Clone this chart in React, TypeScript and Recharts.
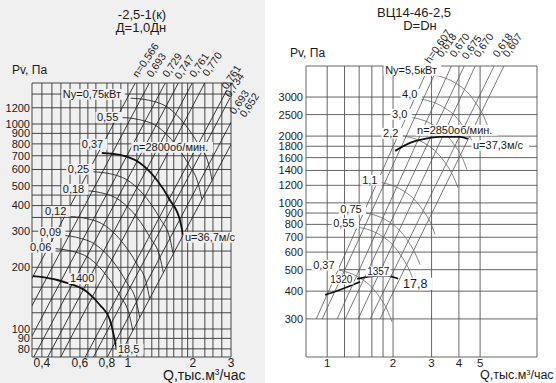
import React from 'react';
import { LineChart, Line, XAxis, YAxis, CartesianGrid, ReferenceDot } from 'recharts';

const FONT = '"Liberation Sans", Arial, Helvetica, sans-serif';
const BG_L = '#f0f0f0';

// ---------------- Left chart (-2,5-1(к)) ----------------
const L_xGrid = [0.36, 0.4, 0.445, 0.49, 0.54, 0.6, 0.653, 0.711, 0.8, 0.852, 0.928, 1, 1.1, 1.186, 1.29, 1.39, 1.515, 1.63, 1.78, 1.89, 2, 2.27, 2.475, 2.72, 3];
const L_xLabels = [0.4, 0.6, 0.8, 1, 2, 3];
const L_yGrid = [73, 80, 90, 100, 120, 140, 160, 200, 240, 300, 350, 400, 450, 500, 600, 700, 800, 900, 1000, 1200, 1400, 1585];
const L_yLabels = [80, 90, 100, 200, 300, 400, 500, 600, 700, 800, 900, 1000, 1200];

const L_n2800_Q = [0.758, 0.918, 1.137, 1.362, 1.565, 1.74, 1.8];
const L_n2800_P = [722, 706, 645, 533, 426, 340, 288];
const L_n1400_Q = [0.363, 0.404, 0.522, 0.646, 0.742, 0.825, 0.889];
const L_n1400_P = [181, 179, 168, 152, 131, 111, 79];

const L_a075_Q = [1.03, 1.25, 1.55, 1.85, 2.13, 2.37, 2.45];
const L_a075_P = [1336, 1306, 1193, 986, 788, 629, 533];
const L_a055_Q = [0.925, 1.12, 1.39, 1.66, 1.91, 2.12, 2.2];
const L_a055_P = [1076, 1052, 961, 794, 635, 507, 429];
const L_a025_Q = [0.682, 0.826, 1.023, 1.226, 1.409, 1.566, 1.62];
const L_a025_P = [585, 572, 522, 432, 345, 275, 233];
const L_a018_Q = [0.614, 0.744, 0.921, 1.103, 1.268, 1.409, 1.458];
const L_a018_P = [474, 463, 423, 350, 279, 223, 189];
const L_a012_Q = [0.531, 0.643, 0.796, 0.953, 1.096, 1.218, 1.26];
const L_a012_P = [354, 346, 316, 261, 209, 167, 141];
const L_a009_Q = [0.478, 0.578, 0.716, 0.858, 0.986, 1.096, 1.134];
const L_a009_P = [287, 280, 256, 212, 169, 135, 114];
const L_a006_Q = [0.443, 0.537, 0.665, 0.797, 0.916, 1.018, 1.053];
const L_a006_P = [247, 241, 221, 182, 146, 116, 98.5];

const L_diagTopQ = [1.112, 1.292, 1.531, 1.741, 2.04, 2.345, 2.873, 2.966, 3.125, 3.48];
const L_diagTopP = [1677, 1677, 1677, 1639, 1677, 1695, 1465, 1339, 1106, 1070];
const L_diagBotQ = [0.231, 0.27, 0.32, 0.367, 0.426, 0.489, 0.635, 0.693, 0.804, 0.909];
const L_diagBotP = [73, 73, 73, 73, 73, 73, 73, 73, 73, 73];
const L_etaText = ['n=0,566', '0,693', '0,729', '0,747', '0,761', '0,770', '0,761', '0,734', '0,693', '0,652'];

// ---------------- Right chart (ВЦ14-46-2,5) ----------------
const R_xGrid = [0.8, 1, 1.2, 1.4, 1.6, 1.8, 2, 3, 4, 5, 9.1];
const R_xLabels = [1, 2, 3, 4, 5];
const R_yGrid = [202, 300, 400, 500, 600, 700, 800, 900, 1000, 1200, 1400, 1600, 1800, 2000, 2500, 3000, 4140];
const R_yLabels = [300, 400, 500, 600, 700, 800, 900, 1000, 1200, 1400, 1600, 1800, 2000, 2500, 3000];

const R_n2850_Q = [2.045, 2.393, 2.66, 3.28, 4.05, 4.4];
const R_n2850_P = [1715, 1863, 1922, 1983, 1983, 1942];
const R_n1320_Q = [0.979, 1.147, 1.415];
const R_n1320_P = [385, 406, 441];
const R_n1357_Q = [1.371, 1.692, 1.879, 2.11];
const R_n1357_P = [455, 469, 469, 455];

const R_a55_Q = [3.05, 3.46, 3.92, 4.36, 4.74, 5.16, 5.43];
const R_a55_P = [3773, 3656, 3436, 3162, 2851, 2491, 2199];
const R_a40_Q = [2.69, 3.05, 3.46, 3.85, 4.18, 4.55, 4.79];
const R_a40_P = [2935, 2844, 2673, 2460, 2218, 1938, 1711];
const R_a30_Q = [2.45, 2.77, 3.14, 3.5, 3.8, 4.14, 4.35];
const R_a30_P = [2426, 2351, 2209, 2033, 1833, 1602, 1414];
const R_a22_Q = [2.22, 2.52, 2.86, 3.18, 3.46, 3.76, 3.96];
const R_a22_P = [2007, 1945, 1828, 1682, 1517, 1325, 1170];
const R_a11_Q = [1.75, 1.98, 2.25, 2.5, 2.72, 2.96, 3.11];
const R_a11_P = [1238, 1199, 1127, 1037, 935, 817, 721];
const R_a075_Q = [1.49, 1.69, 1.92, 2.13, 2.32, 2.52, 2.66];
const R_a075_P = [902, 874, 821, 756, 681, 595, 526];
const R_a055_Q = [1.38, 1.57, 1.78, 1.98, 2.15, 2.34, 2.47];
const R_a055_P = [777, 753, 708, 651, 587, 513, 453];
const R_a037_Q = [1.11, 1.26, 1.43, 1.59, 1.73, 1.88, 1.98];
const R_a037_P = [500, 484, 455, 419, 378, 330, 291];

const R_diagBotQ = [0.891, 0.949, 1.111, 1.208, 1.386, 1.571, 1.745];
const R_diagBotP = [300, 300, 300, 300, 300, 300, 300];
const R_diagTopQ = [2.95, 3.35, 3.84, 4.36, 4.94, 6.04, 6.7];
const R_diagTopP = [4228, 4500, 4500, 4406, 4500, 4500, 4500];
const R_etaText = ['h=0,607', '0,618', '0,670', '0,675', '0,670', '0,618', '0,607'];

// ---------------- helpers ----------------
type Pt = { q: number; p: number };
const zip = (qs: number[], ps: number[]): Pt[] => qs.map((q, i) => ({ q, p: ps[i] }));
const fmt = (v: number) => String(v).replace('.', ',');

type Anno = { q: number; p: number; text: string; rot?: number; size?: number; bg?: string };

const annoShape = (a: Anno) => (props: any) => {
  const cx = props.cx;
  const cy = props.cy;
  const size = a.size ?? 11;
  const w = a.text.length * size * 0.55;
  return (
    <g>
      {a.bg ? <rect x={cx - 1.5} y={cy - size * 0.82} width={w + 3} height={size * 0.98} fill={a.bg} /> : null}
      <text
        x={cx}
        y={cy}
        fontSize={size}
        fontFamily={FONT}
        fill="#1a1a1a"
        transform={a.rot ? `rotate(${a.rot} ${cx} ${cy})` : undefined}
      >
        {a.text}
      </text>
    </g>
  );
};

const L_annos: Anno[] = [
  { q: 0.5, p: 1339, text: 'Ny=0,75кВт', bg: BG_L },
  { q: 0.719, p: 1034, text: '0,55', bg: BG_L },
  { q: 0.612, p: 764, text: '0,37', bg: BG_L },
  { q: 0.527, p: 577, text: '0,25', bg: BG_L },
  { q: 0.5, p: 461, text: '0,18', bg: BG_L },
  { q: 0.413, p: 360, text: '0,12', bg: BG_L },
  { q: 0.391, p: 284, text: '0,09', bg: BG_L },
  { q: 0.352, p: 240, text: '0,06', bg: BG_L },
  { q: 0.539, p: 169, text: '1400', bg: BG_L },
  { q: 0.899, p: 76.4, text: '18,5', bg: BG_L },
  { q: 1.055, p: 738, text: 'n=2800об/мин.', bg: BG_L },
  { q: 1.836, p: 269, text: 'u=36,7м/с', bg: BG_L },
  ...L_etaText.map((t, i) => ({ q: L_diagTopQ[i], p: L_diagTopP[i], text: t, rot: -56, size: 10.5 })),
];

const R_annos: Anno[] = [
  { q: 1.84, p: 3811, text: 'Ny=5,5кВт', bg: '#fff' },
  { q: 2.2, p: 2971, text: '4,0', bg: '#fff' },
  { q: 1.98, p: 2414, text: '3,0', bg: '#fff' },
  { q: 1.8, p: 1983, text: '2,2', bg: '#fff' },
  { q: 2.576, p: 2046, text: 'n=2850об/мин.', bg: '#fff' },
  { q: 4.64, p: 1751, text: 'u=37,3м/с', bg: '#fff' },
  { q: 1.445, p: 1218, text: '1,1', bg: '#fff' },
  { q: 1.147, p: 901, text: '0,75', bg: '#fff' },
  { q: 1.065, p: 780, text: '0,55', bg: '#fff' },
  { q: 0.863, p: 504, text: '0,37', bg: '#fff' },
  { q: 1.032, p: 436, text: '1320', size: 10, bg: '#fff' },
  { q: 1.523, p: 474, text: '1357', size: 10, bg: '#fff' },
  { q: 2.223, p: 414, text: '17,8', size: 12.5, bg: '#fff' },
  ...R_etaText.map((t, i) => ({ q: R_diagTopQ[i], p: R_diagTopP[i], text: t, rot: -55, size: 10.5 })),
];

const tickLx = { fontSize: 12, fill: '#1a1a1a', fontFamily: FONT };
const tickLy = { fontSize: 11, fill: '#1a1a1a', fontFamily: FONT };
const tickR = { fontSize: 11, fill: '#1a1a1a', fontFamily: FONT };

function LeftChart() {
  const thin = [
    zip(L_a075_Q, L_a075_P), zip(L_a055_Q, L_a055_P), zip(L_a025_Q, L_a025_P),
    zip(L_a018_Q, L_a018_P), zip(L_a012_Q, L_a012_P), zip(L_a009_Q, L_a009_P), zip(L_a006_Q, L_a006_P),
  ];
  const diags = L_diagTopQ.map((_, i) => [
    { q: L_diagBotQ[i], p: L_diagBotP[i] },
    { q: L_diagTopQ[i], p: L_diagTopP[i] },
  ]);
  return (
    <LineChart width={270} height={383} margin={{ top: 83, right: 39, bottom: 0, left: 0 }}>
      <CartesianGrid stroke="#333" strokeWidth={0.9} />
      <XAxis type="number" dataKey="q" scale="log" domain={[0.36, 3]} allowDataOverflow ticks={L_xGrid} interval={0}
        tickFormatter={(v: number) => (L_xLabels.includes(v) ? fmt(v) : '')}
        tickLine={false} axisLine={false} tickSize={0} tickMargin={1} height={26} tick={tickLx} />
      <YAxis type="number" dataKey="p" scale="log" domain={[73, 1585]} allowDataOverflow ticks={L_yGrid} interval={0}
        tickFormatter={(v: number) => (L_yLabels.includes(v) ? String(v) : '')}
        tickLine={false} axisLine={false} tickSize={0} tickMargin={2} width={32} tick={tickLy} />
      {diags.map((d, i) => (
        <Line key={'d' + i} data={d} dataKey="p" type="linear" stroke="#222" strokeWidth={0.9} dot={false} activeDot={false} isAnimationActive={false} />
      ))}
      {thin.map((d, i) => (
        <Line key={'a' + i} data={d} dataKey="p" type="monotone" stroke="#222" strokeWidth={0.9} dot={false} activeDot={false} isAnimationActive={false} />
      ))}
      <Line data={zip(L_n2800_Q, L_n2800_P)} dataKey="p" type="monotone" stroke="#111" strokeWidth={1.8} dot={false} activeDot={false} isAnimationActive={false} />
      <Line data={zip(L_n1400_Q, L_n1400_P)} dataKey="p" type="monotone" stroke="#111" strokeWidth={1.8} dot={false} activeDot={false} isAnimationActive={false} />
      {L_annos.map((a, i) => (
        <ReferenceDot key={'la' + i} x={a.q} y={a.p} r={0} ifOverflow="visible" shape={annoShape(a)} />
      ))}
    </LineChart>
  );
}

function RightChart() {
  const thin = [
    zip(R_a55_Q, R_a55_P), zip(R_a40_Q, R_a40_P), zip(R_a30_Q, R_a30_P), zip(R_a22_Q, R_a22_P),
    zip(R_a11_Q, R_a11_P), zip(R_a075_Q, R_a075_P), zip(R_a055_Q, R_a055_P), zip(R_a037_Q, R_a037_P),
  ];
  const diags = R_diagTopQ.map((_, i) => [
    { q: R_diagBotQ[i], p: R_diagBotP[i] },
    { q: R_diagTopQ[i], p: R_diagTopP[i] },
  ]);
  return (
    <LineChart width={286} height={383} margin={{ top: 66, right: 19, bottom: 0, left: 0 }}>
      <CartesianGrid stroke="#555" strokeWidth={0.9} />
      <XAxis type="number" dataKey="q" scale="log" domain={[0.8, 9.1]} allowDataOverflow ticks={R_xGrid} interval={0}
        tickFormatter={(v: number) => (R_xLabels.includes(v) ? fmt(v) : '')}
        tickLine={false} axisLine={false} tickSize={0} tickMargin={2} height={26} tick={{ ...tickR, fontSize: 11.5 }} />
      <YAxis type="number" dataKey="p" scale="log" domain={[202, 4140]} allowDataOverflow ticks={R_yGrid} interval={0}
        tickFormatter={(v: number) => (R_yLabels.includes(v) ? String(v) : '')}
        tickLine={false} axisLine={false} tickSize={0} tickMargin={3} width={36} tick={tickR} />
      {diags.map((d, i) => (
        <Line key={'d' + i} data={d} dataKey="p" type="linear" stroke="#555" strokeWidth={0.8} dot={false} activeDot={false} isAnimationActive={false} />
      ))}
      {thin.map((d, i) => (
        <Line key={'a' + i} data={d} dataKey="p" type="monotone" stroke="#666" strokeWidth={0.8} dot={false} activeDot={false} isAnimationActive={false} />
      ))}
      <Line data={zip(R_n2850_Q, R_n2850_P)} dataKey="p" type="monotone" stroke="#111" strokeWidth={1.9} dot={false} activeDot={false} isAnimationActive={false} />
      <Line data={zip(R_n1320_Q, R_n1320_P)} dataKey="p" type="monotone" stroke="#111" strokeWidth={1.8} dot={false} activeDot={false} isAnimationActive={false} />
      <Line data={zip(R_n1357_Q, R_n1357_P)} dataKey="p" type="monotone" stroke="#111" strokeWidth={1.8} dot={false} activeDot={false} isAnimationActive={false} />
      {R_annos.map((a, i) => (
        <ReferenceDot key={'ra' + i} x={a.q} y={a.p} r={0} ifOverflow="visible" shape={annoShape(a)} />
      ))}
    </LineChart>
  );
}

const T = (p: { left: number; top: number; size: number; center?: boolean; children: React.ReactNode }) => (
  <div
    style={{
      position: 'absolute',
      left: p.left,
      top: p.top,
      fontSize: p.size,
      lineHeight: 1,
      whiteSpace: 'nowrap',
      transform: p.center ? 'translateX(-50%)' : undefined,
      fontFamily: FONT,
      color: '#1a1a1a',
    }}
  >
    {p.children}
  </div>
);

const Cube = () => <span style={{ fontSize: '0.6em', position: 'relative', top: '-0.6em' }}>3</span>;

export default function App() {
  return (
    <div style={{ position: 'absolute', left: 0, top: 0, width: 556, height: 383, background: '#fff', overflow: 'hidden' }}>
      <div style={{ position: 'absolute', left: 0, top: 0, width: 265, height: 383, background: BG_L }} />
      <div style={{ position: 'absolute', left: 0, top: 0 }}>
        <LeftChart />
      </div>
      <div style={{ position: 'absolute', left: 270, top: 0 }}>
        <RightChart />
      </div>
      <T left={142} top={8} size={13} center>-2,5-1(к)</T>
      <T left={141} top={21} size={13} center>Д=1,0Дн</T>
      <T left={12} top={64} size={12}>Pv, Па</T>
      <T left={163} top={368} size={14}>Q,тыс.м<Cube />/час</T>
      <T left={414} top={6} size={13} center>ВЦ14-46-2,5</T>
      <T left={420} top={19} size={13} center>D=Dн</T>
      <T left={290} top={47} size={12}>Pv, Па</T>
      <T left={480} top={369} size={12.5}>Q,тыс.м<Cube />/час</T>
    </div>
  );
}
